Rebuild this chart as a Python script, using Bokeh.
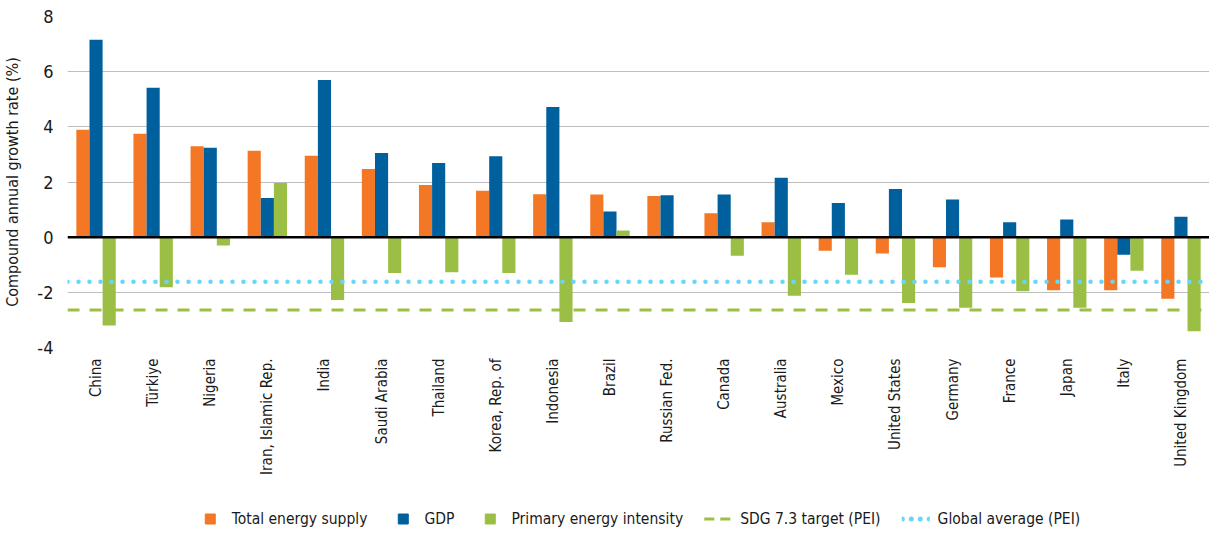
import numpy as np
from bokeh.plotting import figure
from bokeh.layouts import column
from bokeh.models import (ColumnDataSource, FactorRange, Range1d, Span, Legend,
                          LegendItem, FixedTicker)
from bokeh.transform import dodge
from bokeh.embed import file_html
from bokeh.resources import INLINE

countries = ["China", "Türkiye", "Nigeria", "Iran, Islamic Rep.", "India",
             "Saudi Arabia", "Thailand", "Korea, Rep. of", "Indonesia", "Brazil",
             "Russian Fed.", "Canada", "Australia", "Mexico", "United States",
             "Germany", "France", "Japan", "Italy", "United Kingdom"]
tes = [3.89, 3.75, 3.30, 3.13, 2.95, 2.47, 1.89, 1.68, 1.56, 1.55,
       1.49, 0.87, 0.54, -0.49, -0.59, -1.09, -1.46, -1.92, -1.92, -2.23]
gdp = [7.16, 5.42, 3.24, 1.42, 5.70, 3.05, 2.69, 2.93, 4.72, 0.93,
       1.52, 1.55, 2.15, 1.24, 1.75, 1.37, 0.54, 0.64, -0.64, 0.74]
pei = [-3.20, -1.82, -0.30, 1.96, -2.28, -1.30, -1.27, -1.30, -3.08, 0.24,
       0.0, -0.67, -2.12, -1.36, -2.39, -2.56, -1.96, -2.56, -1.22, -3.41]
sdg_target = -2.64
global_avg = -1.62
y_ticks = [-4, -2, 0, 2, 4, 6, 8]
y_tick_labels = ["-4", "-2", "0", "2", "4", "6", "8"]
legend_labels = ["Total energy supply", "GDP", "Primary energy intensity",
                 "SDG 7.3 target (PEI)", "Global average (PEI)"]

ORANGE = "#F37725"
BLUE = "#00609E"
GREEN = "#9BBF45"
LIGHTBLUE = "#66D6FA"
FONT = "DejaVu Sans Condensed"
TXT = "#1a1a1a"

src = ColumnDataSource(dict(country=countries, tes=tes, gdp=gdp, pei=pei))

p = figure(width=1209, height=477, output_backend="svg", toolbar_location=None,
           x_range=FactorRange(factors=countries), y_range=Range1d(-4, 8),
           min_border_left=67, min_border_right=0, min_border_top=16,
           min_border_bottom=129, outline_line_color=None)

bw = 0.23
p.vbar(x=dodge("country", -bw, range=p.x_range), top="tes", width=bw, source=src,
       fill_color=ORANGE, line_color=None)
p.vbar(x=dodge("country", 0, range=p.x_range), top="gdp", width=bw, source=src,
       fill_color=BLUE, line_color=None)
p.vbar(x=dodge("country", bw, range=p.x_range), top="pei", width=bw, source=src,
       fill_color=GREEN, line_color=None)

p.add_layout(Span(location=0, dimension="width", line_color="black", line_width=2.5))
p.add_layout(Span(location=sdg_target, dimension="width", line_color=GREEN,
                  line_width=3, line_dash="12 10"))
p.add_layout(Span(location=global_avg, dimension="width", line_color=LIGHTBLUE,
                  line_width=4.5, line_dash="0 11", line_cap="round"))

p.xgrid.grid_line_color = None
p.ygrid.ticker = FixedTicker(ticks=y_ticks)
p.ygrid.grid_line_color = "#BDBDBD"
p.ygrid.grid_line_width = 1.2

p.yaxis.ticker = FixedTicker(ticks=y_ticks)
p.yaxis.major_label_overrides = {t: s for t, s in zip(y_ticks, y_tick_labels)}
p.yaxis.axis_line_color = None
p.yaxis.major_tick_line_color = None
p.yaxis.minor_tick_line_color = None
p.yaxis.major_label_text_font = FONT
p.yaxis.major_label_text_font_size = "18px"
p.yaxis.major_label_text_color = TXT
p.yaxis.major_label_standoff = 8
p.yaxis.axis_label = "Compound annual growth rate (%)"
p.yaxis.axis_label_text_font = FONT
p.yaxis.axis_label_text_font_size = "16px"
p.yaxis.axis_label_text_font_style = "normal"
p.yaxis.axis_label_text_color = TXT
p.yaxis.axis_label_standoff = 12

p.xaxis.axis_line_color = None
p.xaxis.major_tick_line_color = None
p.xaxis.major_label_orientation = np.pi / 2
p.xaxis.major_label_text_font = FONT
p.xaxis.major_label_text_font_size = "15px"
p.xaxis.major_label_text_color = TXT
p.xaxis.major_label_standoff = 5

# legend strip (separate figure; the swatch renderers sit outside its visible range)
lf = figure(width=1209, height=54, output_backend="svg", toolbar_location=None,
            x_range=Range1d(1, 2), y_range=Range1d(1, 2),
            x_axis_type=None, y_axis_type=None,
            min_border_left=67, min_border_right=0, min_border_top=0,
            min_border_bottom=0, outline_line_color=None)
lf.xgrid.grid_line_color = None
lf.ygrid.grid_line_color = None
l1 = lf.scatter(x=[0], y=[0], marker="square", size=10, color=ORANGE)
l2 = lf.scatter(x=[0], y=[0], marker="square", size=10, color=BLUE)
l3 = lf.scatter(x=[0], y=[0], marker="square", size=10, color=GREEN)
l4 = lf.line(x=[0, 0], y=[0, 0], line_color=GREEN, line_width=3, line_dash="10 6")
l5 = lf.line(x=[0, 0], y=[0, 0], line_color=LIGHTBLUE, line_width=5,
             line_dash="0 9", line_cap="round")

legend = Legend(items=[LegendItem(label=lab, renderers=[r]) for lab, r in
                       zip(legend_labels, [l1, l2, l3, l4, l5])],
                orientation="horizontal", location="bottom_center",
                border_line_color=None, background_fill_alpha=0,
                label_text_font=FONT, label_text_font_size="15.5px",
                label_text_color=TXT, glyph_width=28, glyph_height=25,
                label_standoff=8, spacing=21, padding=0, margin=0)
lf.add_layout(legend, "center")

layout = column(p, lf, spacing=0)
open("out.html", "w").write(file_html(layout, INLINE))
